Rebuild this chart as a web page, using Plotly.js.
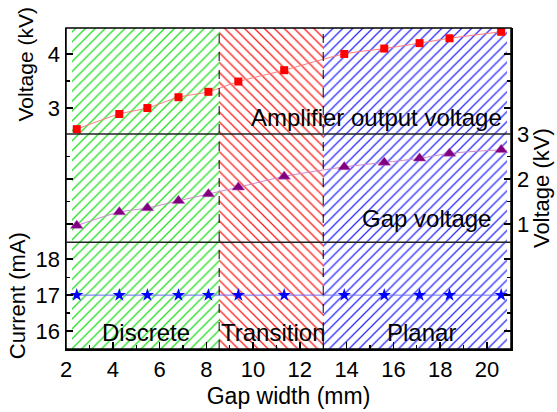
<!DOCTYPE html>
<html>
<head>
<meta charset="utf-8">
<script src="https://cdn.plot.ly/plotly-3.0.1.min.js"></script>
<style>html,body{margin:0;padding:0;background:#fff;}#chart{width:557px;height:412px;}</style>
</head>
<body>
<div id="chart"></div>
<script>
// Data
const gapWidth = [2.46, 4.28, 5.48, 6.81, 8.09, 9.37, 11.33, 13.9, 15.61, 17.12, 18.40, 20.61];
const ampVoltage = [2.61, 2.89, 3.00, 3.20, 3.30, 3.49, 3.70, 4.00, 4.10, 4.20, 4.29, 4.41];
const gapVoltage = [0.97, 1.27, 1.36, 1.52, 1.67, 1.82, 2.06, 2.27, 2.37, 2.46, 2.57, 2.65];
const current = [17, 17, 17, 17, 17, 17, 17, 17, 17, 17, 17, 17];

const regionNames = ['Discrete', 'Transition', 'Planar'];
const regionStart = [2.25, 8.55, 13.0];
const regionEnd = [8.55, 13.0, 20.85];
const regionColors = ['#22e022', '#ff1a1a', '#2a2aff'];
const regionHatch = ['/', '\\', '/'];
const regionLabelX = [5.42, 10.86, 17.19];

const FONT = 'Liberation Sans, Arial, sans-serif';

const traces = [];
for (let i = 0; i < regionNames.length; i++) {
  traces.push({
    type: 'bar', xaxis: 'x', yaxis: 'y',
    x: [(regionStart[i] + regionEnd[i]) / 2], y: [1], base: [0],
    width: [regionEnd[i] - regionStart[i]],
    marker: {color: 'white', line: {width: 0},
      pattern: {shape: regionHatch[i], fgcolor: regionColors[i], bgcolor: 'white', size: 7, solidity: 0.18}},
    showlegend: false, hoverinfo: 'skip'
  });
}
traces.push({
  type: 'scatter', mode: 'lines+markers', xaxis: 'x', yaxis: 'y2',
  x: gapWidth, y: ampVoltage,
  line: {color: '#ff7a7a', width: 1, shape: 'spline', smoothing: 0.8},
  marker: {symbol: 'square', size: 8, color: '#ff0000'}, showlegend: false
});
traces.push({
  type: 'scatter', mode: 'lines+markers', xaxis: 'x', yaxis: 'y3',
  x: gapWidth, y: gapVoltage,
  line: {color: '#cc88cc', width: 1, shape: 'spline', smoothing: 0.8},
  marker: {symbol: 'triangle-up', size: 11, color: '#800080', line: {color: '#c060c0', width: 0.5}}, showlegend: false
});
traces.push({
  type: 'scatter', mode: 'lines+markers', xaxis: 'x', yaxis: 'y4',
  x: gapWidth, y: current,
  line: {color: '#6a6aff', width: 1},
  marker: {symbol: 'star', size: 10, color: '#0000ff'}, showlegend: false
});

const d1 = 0.3324, d2 = 0.6698;
const tickFont = {family: FONT, size: 22, color: '#000'};
const titleFont = {family: FONT, size: 22, color: '#000'};
const yCommon = {
  showline: true, linecolor: '#000', linewidth: 1.5, mirror: 'ticks',
  ticks: 'inside', ticklen: 7, tickwidth: 1.5, tickcolor: '#000',
  showgrid: false, zeroline: false, tickfont: tickFont, fixedrange: true
};

const shapes = [
  {type: 'rect', xref: 'paper', yref: 'paper', x0: 0, x1: 1, y0: 0, y1: 1, line: {color: '#000', width: 1.5}},
  {type: 'line', xref: 'paper', yref: 'paper', x0: 0, x1: 1, y0: d1, y1: d1, line: {color: '#222', width: 1.5}},
  {type: 'line', xref: 'paper', yref: 'paper', x0: 0, x1: 1, y0: d2, y1: d2, line: {color: '#222', width: 1.5}},
  {type: 'line', xref: 'x', yref: 'paper', x0: regionEnd[0], x1: regionEnd[0], y0: 0, y1: 1, line: {color: '#000', width: 1, dash: 'dash'}},
  {type: 'line', xref: 'x', yref: 'paper', x0: regionEnd[1], x1: regionEnd[1], y0: 0, y1: 1, line: {color: '#000', width: 1, dash: 'dash'}}
];

const annFont = {family: FONT, size: 24, color: '#000'};
const annotations = [
  {xref: 'x', yref: 'y2', x: 15.29, y: 2.83, text: 'Amplifier output voltage', showarrow: false, font: annFont},
  {xref: 'x', yref: 'y3', x: 17.4, y: 1.12, text: 'Gap voltage', showarrow: false, font: annFont},
  {xref: 'paper', yref: 'paper', x: -0.09, xanchor: 'center', y: 1.07, yanchor: 'top', text: 'Voltage (kV)', textangle: -90, showarrow: false, font: {family: FONT, size: 21, color: '#000'}}
];
for (let i = 0; i < regionNames.length; i++) {
  annotations.push({xref: 'x', yref: 'y4', x: regionLabelX[i], y: 15.97, text: regionNames[i], showarrow: false, font: annFont});
}

const layout = {
  width: 557, height: 412,
  margin: {l: 66, r: 46.3, t: 28, b: 63},
  paper_bgcolor: '#fff', plot_bgcolor: 'rgba(0,0,0,0)',
  barmode: 'overlay', bargap: 0,
  showlegend: false,
  xaxis: {
    anchor: 'y4', domain: [0, 1], range: [2, 21.03], dtick: 2, tick0: 2,
    showline: true, linecolor: '#000', linewidth: 1.5,
    ticks: 'inside', ticklen: 7, tickwidth: 1.5, tickcolor: '#000',
    minor: {dtick: 1, ticks: 'inside', ticklen: 4, tickwidth: 1.2, tickcolor: '#000'},
    showgrid: false, zeroline: false, tickfont: tickFont, fixedrange: true,
    title: {text: 'Gap width (mm)', font: {family: FONT, size: 23, color: '#000'}, standoff: 7}
  },
  yaxis: {domain: [0, 1], range: [0, 1], visible: false, fixedrange: true},
  yaxis2: Object.assign({}, yCommon, {
    domain: [d2, 1], range: [2.52, 4.48], dtick: 1, anchor: 'x', side: 'left',
    minor: {dtick: 0.5, ticks: 'inside', ticklen: 4, tickwidth: 1.2, tickcolor: '#000'}
  }),
  yaxis3: Object.assign({}, yCommon, {
    domain: [d1, d2], range: [0.6, 3.0], dtick: 1, anchor: 'x', side: 'right',
    minor: {dtick: 0.5, ticks: 'inside', ticklen: 4, tickwidth: 1.2, tickcolor: '#000'},
    title: {text: 'Voltage (kV)', font: titleFont, standoff: 4}
  }),
  yaxis4: Object.assign({}, yCommon, {
    domain: [0, d1], range: [15.5, 18.47], dtick: 1, anchor: 'x', side: 'left',
    minor: {dtick: 0.5, ticks: 'inside', ticklen: 4, tickwidth: 1.2, tickcolor: '#000'},
    title: {text: 'Current (mA)', font: titleFont, standoff: 4}
  }),
  shapes: shapes,
  annotations: annotations
};

Plotly.newPlot('chart', traces, layout, {staticPlot: true, displayModeBar: false});
</script>
</body>
</html>
